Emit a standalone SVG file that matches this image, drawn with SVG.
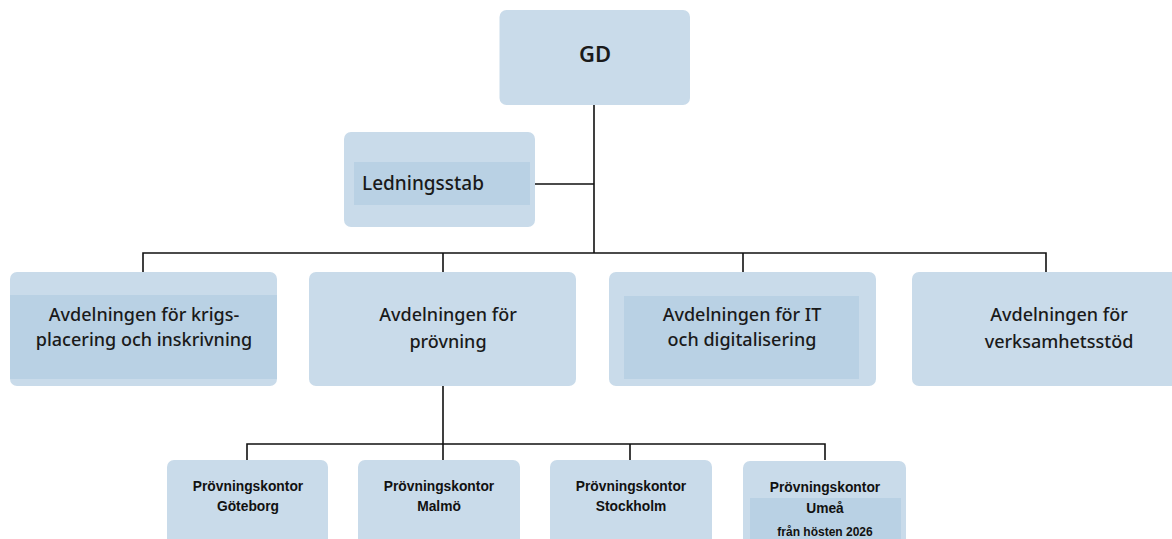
<svg xmlns="http://www.w3.org/2000/svg" width="1172" height="539" viewBox="0 0 1172 539">
<style>
.box{fill:#c9dbea}
.inner{fill:#b9d1e4}
.t{font-family:"Noto Sans","Open Sans",sans-serif;font-size:18px;fill:#1a1a1a;text-anchor:middle;font-weight:500}
.s{font-family:"Liberation Sans",Arial,sans-serif;font-size:13.8px;font-weight:bold;fill:#111;text-anchor:middle}
.ln{stroke:#111;stroke-width:1.6;fill:none}
</style>
<rect width="1172" height="539" fill="#fff"/>
<g id="connectors">
<path class="ln" d="M594 105V253M535 184H594M143 272V253H1046V272M443 253V272M743 253V272"/>
<path class="ln" d="M443 386V444M247 460V444H825V460M443 444V460M630 444V460"/>
</g>
<g id="gd">
<rect class="box" x="499.5" y="10" width="190.5" height="95" rx="7"/>
<text class="t" x="595" y="62" style="font-size:22px;font-weight:600">GD</text>
</g>
<g id="ledningsstab">
<rect class="box" x="344" y="132" width="191" height="95" rx="7"/>
<rect class="inner" x="354" y="162" width="176" height="43"/>
<text class="t" x="362" y="190" style="text-anchor:start;font-size:19px">Ledningsstab</text>
</g>
<g id="krigsplacering">
<rect class="box" x="10" y="272" width="267" height="114" rx="7"/>
<rect class="inner" x="10" y="295" width="267" height="84"/>
<text class="t" x="144" y="321">Avdelningen för krigs-</text>
<text class="t" x="144" y="346">placering och inskrivning</text>
</g>
<g id="provning">
<rect class="box" x="309" y="272" width="267" height="114" rx="7"/>
<text class="t" x="448" y="321">Avdelningen för</text>
<text class="t" x="448" y="348">prövning</text>
</g>
<g id="it">
<rect class="box" x="609" y="272" width="267" height="114" rx="7"/>
<rect class="inner" x="624" y="296" width="235" height="83"/>
<text class="t" x="742" y="321">Avdelningen för IT</text>
<text class="t" x="742" y="346">och digitalisering</text>
</g>
<g id="verksamhetsstod">
<rect class="box" x="912" y="272" width="270" height="114" rx="7"/>
<text class="t" x="1059" y="321">Avdelningen för</text>
<text class="t" x="1059" y="348">verksamhetsstöd</text>
</g>
<g id="goteborg">
<rect class="box" x="167" y="460" width="161" height="95" rx="7"/>
<text class="s" x="248" y="491">Prövningskontor</text>
<text class="s" x="248" y="511">Göteborg</text>
</g>
<g id="malmo">
<rect class="box" x="358" y="460" width="162" height="95" rx="7"/>
<text class="s" x="439" y="491">Prövningskontor</text>
<text class="s" x="439" y="511">Malmö</text>
</g>
<g id="stockholm">
<rect class="box" x="550" y="460" width="162" height="95" rx="7"/>
<text class="s" x="631" y="491">Prövningskontor</text>
<text class="s" x="631" y="511">Stockholm</text>
</g>
<g id="umea">
<rect class="box" x="743" y="461" width="163" height="95" rx="7"/>
<rect class="inner" x="750" y="498" width="151" height="45"/>
<text class="s" x="825" y="492">Prövningskontor</text>
<text class="s" x="825" y="513">Umeå</text>
<text class="s" x="825" y="536" style="font-size:12px">från hösten 2026</text>
</g>
</svg>
